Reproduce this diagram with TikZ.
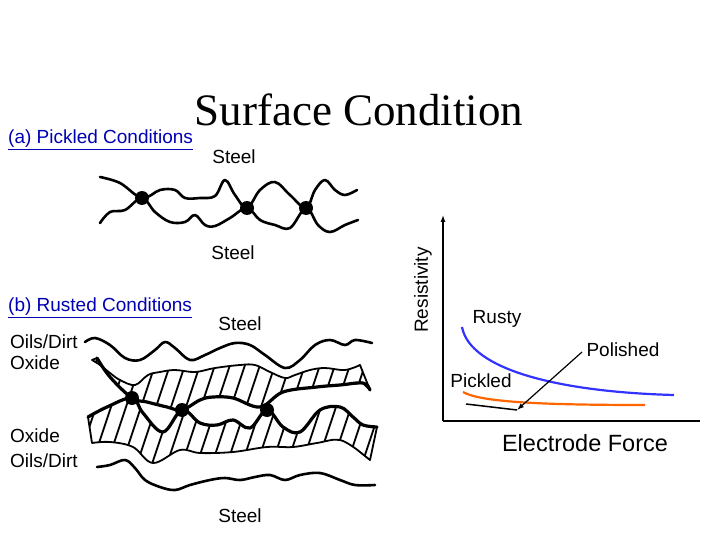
\documentclass[tikz,border=0pt]{standalone}
\usepackage{fontspec}
\setmainfont{Liberation Serif}
\setsansfont{Liberation Sans}
\usetikzlibrary{arrows.meta}
\begin{document}
\begin{tikzpicture}[x=1pt,y=-1pt,
  lbl/.style={font=\sffamily\fontsize{19}{20}\selectfont,inner sep=0pt},
  link/.style={lbl,anchor=west,text=blue!70!black,append after command={([yshift=-1pt]\tikzlastnode.south west) edge[draw=blue!70!black,line width=1pt] ([yshift=-1pt]\tikzlastnode.south east)}},
  wire/.style={line width=3.2pt,line cap=round,line join=round},
  thin/.style={line width=2.6pt,line cap=round,line join=round},
  dot/.style={circle,fill=black,inner sep=0pt,minimum size=14pt}]
\useasboundingbox (0,0) rectangle (720,540);
\node[font=\fontsize{45}{48}\selectfont,inner sep=0pt] (title) at (359,110) {Surface Condition};
\node[link] (pa) at (8,139) {(a) Pickled Conditions};
\node[lbl] (s1) at (234,157) {Steel};
\node[lbl] (s2) at (233,253) {Steel};
\node[link] (pb) at (8,307) {(b) Rusted Conditions};
\node[lbl] (s3) at (240,324) {Steel};
\node[lbl] (s4) at (240,516) {Steel};
\node[lbl,anchor=west] (o1) at (10,342) {Oils/Dirt};
\node[lbl,anchor=west] (x1) at (10,363) {Oxide};
\node[lbl,anchor=west] (x2) at (10,436) {Oxide};
\node[lbl,anchor=west] (o2) at (10,461) {Oils/Dirt};
% pickled wires
\draw[thin] plot[smooth,tension=0.6] coordinates {(100,177) (120,183) (142,198) (160,190) (175,190) (185,198) (200,198) (215,196) (225,180) (235,195) (247,208) (260,190) (275,182) (290,195) (306,208) (315,190) (325,180) (335,190) (345,195) (357,190)};
\draw[thin] plot[smooth,tension=0.6] coordinates {(100,223) (110,212) (125,210) (142,198) (155,212) (170,222) (185,222) (195,215) (205,225) (215,226) (230,218) (247,208) (260,220) (275,225) (290,228) (306,208) (318,225) (330,232) (345,225) (358,220)};
\node[dot] (d1) at (142,198) {};
\node[dot] (d2) at (247,208) {};
\node[dot] (d3) at (306,208) {};
% rusted
\draw[thin] plot[smooth,tension=0.6] coordinates {(85,342) (95,338) (110,345) (125,358) (140,360) (155,350) (165,342) (175,348) (190,360) (205,355) (220,348) (235,343) (250,345) (265,355) (285,368) (300,360) (315,345) (330,340) (345,345) (355,340) (372,343)};
\draw[thin] plot[smooth,tension=0.6] coordinates {(97,467) (110,465) (125,460) (135,468) (145,480) (160,487) (175,490) (190,485) (210,480) (225,478) (240,480) (255,477) (270,475) (285,480) (300,475) (320,473) (340,480) (355,485) (375,485)};
\def\upperband{plot[smooth,tension=0.6] coordinates {(92,360) (100,365) (110,373) (120,380) (135,385) (148,375) (160,372) (175,370) (195,372) (215,368) (240,365) (255,365) (270,372) (285,378) (295,375) (310,370) (325,368) (345,370) (360,365)} -- (370,390) -- plot[smooth,tension=0.6] coordinates {(363,383) (340,385) (317,387) (283,392) (260,407) (233,398) (213,397) (200,400) (182,410) (167,407) (147,402) (132,398) (110,377) (97,358)} -- cycle}
\def\lowerband{plot[smooth,tension=0.6] coordinates {(88,417) (107,407) (132,398) (143,413) (163,432) (182,410) (200,423) (217,425) (233,420) (250,428) (267,410) (283,427) (300,432) (320,410) (340,407) (353,417) (363,425) (377,427)} -- (370,460) -- plot[smooth,tension=0.6] coordinates {(360,452) (340,440) (317,443) (293,447) (267,447) (233,452) (200,453) (180,450) (153,463) (133,447) (110,442) (92,443)} -- cycle}
\begin{scope}
\clip \upperband;
\foreach \i in {60,75,...,400} \draw[line width=1.8pt] (\i,470) -- ++(40,-120);
\end{scope}
\begin{scope}
\clip \lowerband;
\foreach \i in {60,75,...,400} \draw[line width=1.8pt] (\i,470) -- ++(25,-75);
\end{scope}
\draw[line width=1.8pt,line join=round] \upperband;
\draw[line width=1.8pt,line join=round] \lowerband;
\draw[wire] plot[smooth,tension=0.6] coordinates {(97,358) (110,377) (132,398) (147,402) (167,407) (182,410) (200,400) (213,397) (233,398) (260,407) (283,392) (317,387) (340,385) (363,383) (370,390)};
\draw[wire] plot[smooth,tension=0.6] coordinates {(88,417) (107,407) (132,398) (143,413) (163,432) (182,410) (200,423) (217,425) (233,420) (250,428) (267,410) (283,427) (300,432) (320,410) (340,407) (353,417) (363,425) (377,427)};
\node[dot] (r1) at (132,398) {};
\node[dot] (r2) at (182,410) {};
\node[dot] (r3) at (267,410) {};
% graph
\coordinate (org) at (443,421);
\coordinate (ytop) at (443,215);
\coordinate (xend) at (700,421);
\draw[line width=1.3pt,-{Latex[length=7pt,width=5pt]}] (org) -- (ytop);
\draw[line width=1.3pt] (org) -- (xend);
\node[lbl,rotate=90] (res) at (423,290) {Resistivity};
\node[font=\sffamily\fontsize{23.5}{24}\selectfont,inner sep=0pt] (ef) at (585,443) {Electrode Force};
\node[lbl] (rusty) at (497,319) {Rusty};
\node[lbl] (pol) at (623,350) {Polished};
\node[lbl] (pick) at (481,381) {Pickled};
\draw[blue!80!white,line width=2.2pt] (462,327) .. controls (470,370) and (560,392) .. (674,395);
\draw[orange!80!red,line width=2.2pt] (463,392) .. controls (480,402) and (540,405) .. (645,405);
\coordinate (pk) at (517,410);
\coordinate (pp) at (582,352);
\draw[line width=1.5pt] (466,404) -- (pk);
\draw[line width=1.2pt,-{Latex[length=7pt,width=5pt]}] (pp) -- (pk);
\end{tikzpicture}
\end{document}
